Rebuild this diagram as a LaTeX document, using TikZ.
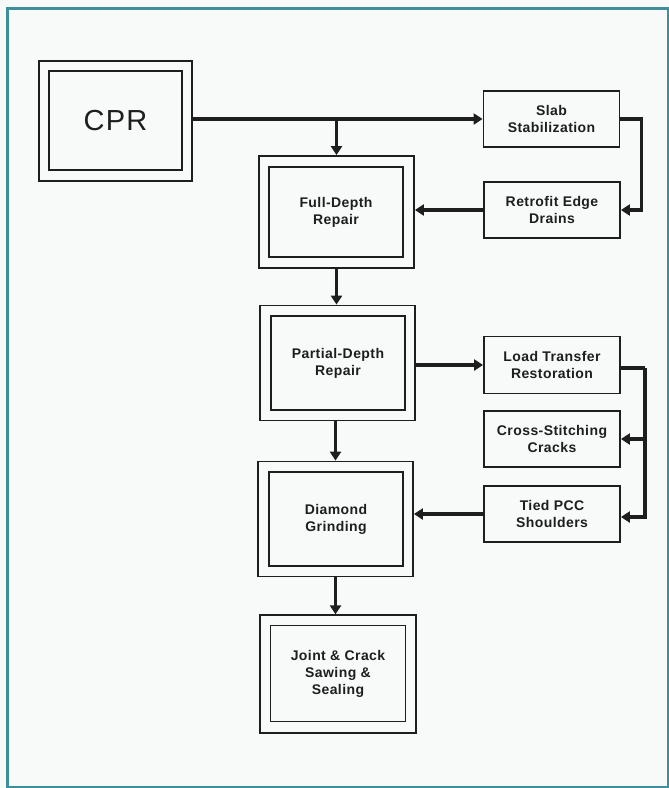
\documentclass[tikz,border=0pt]{standalone}
\usepackage{fontspec}
\setmainfont{Liberation Sans}
\newfontfamily\boxfont[LetterSpace=3]{Liberation Sans}
\newfontfamily\cprfont[LetterSpace=4]{Liberation Sans}
\usetikzlibrary{arrows.meta,calc}
\definecolor{ink}{HTML}{1E1E1E}
\definecolor{frame}{HTML}{3F8E9C}
\definecolor{paper}{HTML}{F8FAFA}
\tikzset{
  box/.style={draw=ink, line width=1.8pt, rectangle, inner sep=0pt, align=center,
    font=\boxfont\bfseries\fontsize{14}{17}\selectfont, text=ink},
  arr/.style={draw=ink, line width=3.6pt, -{Triangle[length=9pt,width=11pt]}},
  link/.style={draw=ink, line width=3.6pt},
}
\begin{document}
\begin{tikzpicture}[x=1pt,y=-1pt]
\useasboundingbox (0,0) rectangle (669,788);
\fill[paper] (0,0) rectangle (669,788);
\draw[frame, line width=2.2pt] (7.5,8.5) rectangle (668,787);

% CPR
\node[box, minimum width=153pt, minimum height=120pt] (cpro) at (115.5,121) {};
\node[box, minimum width=133pt, minimum height=99pt, font=\cprfont\fontsize{29}{34}\selectfont] (cpr) at (115.5,120.5) {CPR};

% main column
\node[box, minimum width=155pt, minimum height=112pt] (fullo) at (336.5,212) {};
\node[box, minimum width=134pt, minimum height=90pt] (full) at (336,212) {Full-Depth\\Repair};

\node[box, minimum width=155pt, minimum height=115pt] (parto) at (337.5,363) {};
\node[box, minimum width=134pt, minimum height=94pt] (part) at (338,363) {Partial-Depth\\Repair};

\node[box, minimum width=155pt, minimum height=115pt] (diao) at (335.5,519) {};
\node[box, minimum width=134pt, minimum height=94pt] (dia) at (336,519) {Diamond\\Grinding};

\node[box, minimum width=156pt, minimum height=117.5pt] (jointo) at (338,674) {};
\node[box, minimum width=135pt, minimum height=96pt] (joint) at (338,673.5) {Joint \& Crack\\Sawing \&\\Sealing};

% right column
\node[box, minimum width=136pt, minimum height=56pt] (slab) at (551.5,119) {Slab\\Stabilization};
\node[box, minimum width=136pt, minimum height=56pt] (retro) at (552,210) {Retrofit Edge\\Drains};
\node[box, minimum width=136pt, minimum height=57pt] (load) at (552,365) {Load Transfer\\Restoration};
\node[box, minimum width=136pt, minimum height=56.5pt] (cross) at (552,439) {Cross-Stitching\\Cracks};
\node[box, minimum width=136pt, minimum height=56.5pt] (tied) at (552,514) {Tied PCC\\Shoulders};

% connectors
\coordinate (j1) at (fullo.north |- slab.west);
\draw[link] (cpro.east |- slab.west) -- (j1);
\draw[arr] (j1) -- (slab.west);
\draw[arr] (j1) -- (fullo.north);
\draw[arr] (slab.east) -- ++(21,0) |- (retro.east);
\draw[arr] (retro.west) -- (fullo.east |- retro.west);
\draw[arr] (fullo.south) -- (fullo.south |- parto.north);
\draw[arr] (parto.east |- load.west) -- (load.west);
\coordinate (bus) at ($(load.east)+(24,3)$);
\draw[link] ($(load.east)+(0,3)$) -- (bus);
\draw[arr] (bus) |- ($(tied.east)+(0,3)$);
\draw[arr] (bus) |- (cross.east);
\draw[arr] (tied.west) -- (diao.east |- tied.west);
\draw[arr] (parto.south -| diao.north) -- (diao.north);
\draw[arr] (diao.south) -- (diao.south |- jointo.north);
\end{tikzpicture}
\end{document}
